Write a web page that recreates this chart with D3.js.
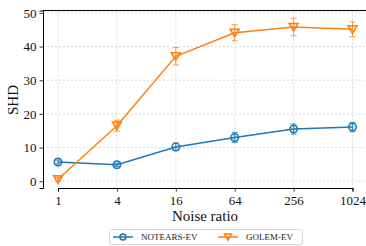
<!DOCTYPE html>
<html>
<head>
<meta charset="utf-8">
<script src="https://cdn.jsdelivr.net/npm/d3@7"></script>
<style>
  body { margin: 0; background: #fff; }
</style>
</head>
<body>
<script>
// data
const noiseRatios = ["1", "4", "16", "64", "256", "1024"];
const notearsMean = [5.7, 4.9, 10.2, 13.0, 15.5, 16.1];
const notearsErr = [0.6, 0.5, 1.1, 1.5, 1.5, 1.4];
const golemMean = [0.6, 16.5, 37.1, 44.1, 45.8, 45.1];
const golemErr = [0.5, 1.6, 2.6, 2.4, 2.6, 2.2];
const yTicks = [0, 10, 20, 30, 40, 50];

const width = 366, height = 246;
const margin = { top: 10.5, right: -1.5, bottom: 58, left: 43 };
const inset = 15;
const serif = "Liberation Serif";

const svg = d3.select("body").append("svg")
  .attr("width", width).attr("height", height)
  .attr("font-family", serif);

const x = d3.scalePoint().domain(noiseRatios)
  .range([margin.left + inset, width - margin.right - inset]);
const y = d3.scaleLinear().domain([-2.0, 50.7])
  .range([height - margin.bottom, margin.top]);

// grid
const grid = svg.append("g").attr("stroke", "#cfcfcf").attr("stroke-width", 0.8)
  .attr("stroke-dasharray", "2,2");
grid.selectAll(".gx").data(noiseRatios).enter().append("line")
  .attr("x1", d => x(d)).attr("x2", d => x(d))
  .attr("y1", margin.top).attr("y2", height - margin.bottom);
grid.selectAll(".gy").data(yTicks).enter().append("line")
  .attr("x1", margin.left).attr("x2", width - margin.right)
  .attr("y1", d => y(d)).attr("y2", d => y(d));

// axes
const xAxis = svg.append("g")
  .attr("transform", `translate(0,${height - margin.bottom})`)
  .call(d3.axisBottom(x).tickSizeOuter(0).tickSize(3.5).tickPadding(4));
const yAxis = svg.append("g")
  .attr("transform", `translate(${margin.left},0)`)
  .call(d3.axisLeft(y).tickValues(yTicks).tickSizeOuter(0).tickSize(3.5).tickPadding(3));
[xAxis, yAxis].forEach(a => {
  a.attr("font-family", serif);
  a.select(".domain").attr("stroke", "#000").attr("stroke-width", 1);
  a.selectAll(".tick line").attr("stroke", "#000").attr("stroke-width", 0.8);
  a.selectAll("text").attr("font-family", serif).attr("font-size", 13).attr("fill", "#111");
});

// top frame
svg.append("line").attr("x1", margin.left).attr("x2", width)
  .attr("y1", margin.top).attr("y2", margin.top)
  .attr("stroke", "#000").attr("stroke-width", 1);

// axis labels
svg.append("text").attr("x", 205).attr("y", 221).attr("font-family", serif)
  .attr("text-anchor", "middle").attr("font-size", 15).attr("fill", "#111").text("Noise ratio");
svg.append("text").attr("transform", "translate(18,100) rotate(-90)").attr("font-family", serif)
  .attr("text-anchor", "middle").attr("font-size", 15).attr("fill", "#111").text("SHD");

const series = [
  { name: "NOTEARS-EV", color: "#1f77b4", mean: notearsMean, err: notearsErr, marker: "circle" },
  { name: "GOLEM-EV", color: "#ff7f0e", mean: golemMean, err: golemErr, marker: "tri" }
];

function drawMarker(g, type, color, cx, cy, k) {
  if (type === "circle") {
    g.append("circle").attr("cx", cx).attr("cy", cy).attr("r", 3.8 * k)
      .attr("fill", color).attr("fill-opacity", 0.15)
      .attr("stroke", color).attr("stroke-width", 1.5);
  } else {
    const s = 4.5 * k;
    g.append("path")
      .attr("d", `M${cx - s},${cy - s * 0.8}L${cx + s},${cy - s * 0.8}L${cx},${cy + s * 0.9}Z`)
      .attr("fill", color).attr("fill-opacity", 0.15)
      .attr("stroke", color).attr("stroke-width", 1.5);
  }
}

series.forEach(s => {
  const g = svg.append("g");
  const line = d3.line().x((d, i) => x(noiseRatios[i])).y(d => y(d));
  g.append("path").datum(s.mean).attr("d", line)
    .attr("fill", "none").attr("stroke", s.color).attr("stroke-width", 1.5);
  s.mean.forEach((m, i) => {
    const cx = x(noiseRatios[i]);
    const e = g.append("g").attr("stroke", s.color).attr("stroke-width", 1).attr("opacity", 0.8);
    e.append("line").attr("x1", cx).attr("x2", cx).attr("y1", y(m - s.err[i])).attr("y2", y(m + s.err[i]));
    [m - s.err[i], m + s.err[i]].forEach(v => {
      e.append("line").attr("x1", cx - 3).attr("x2", cx + 3).attr("y1", y(v)).attr("y2", y(v));
    });
    drawMarker(g, s.marker, s.color, cx, y(m), 1);
  });
});

// legend
const lg = svg.append("g");
lg.append("rect").attr("x", 109.5).attr("y", 229.5).attr("width", 193).attr("height", 15)
  .attr("rx", 2).attr("fill", "#fff").attr("stroke", "#ccc").attr("stroke-width", 0.8);
const legendX = [113, 218];
series.forEach((s, i) => {
  const lx = legendX[i], ly = 237;
  lg.append("line").attr("x1", lx).attr("x2", lx + 20).attr("y1", ly).attr("y2", ly)
    .attr("stroke", s.color).attr("stroke-width", 1.5);
  drawMarker(lg, s.marker, s.color, lx + 10, ly, 0.8);
  lg.append("text").attr("x", lx + 28).attr("y", ly + 3).attr("font-family", serif)
    .attr("font-size", 9).attr("fill", "#222").text(s.name);
});
</script>
</body>
</html>
